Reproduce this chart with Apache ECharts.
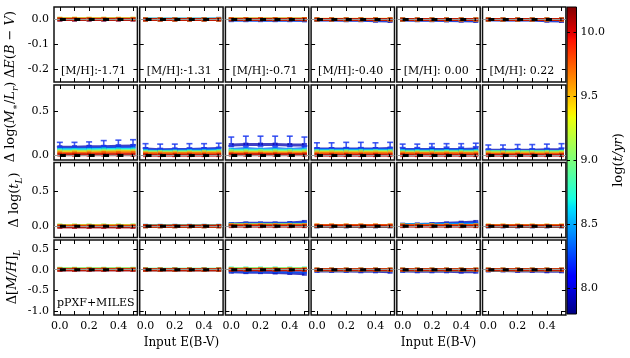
<!DOCTYPE html>
<html>
<head>
<meta charset="utf-8">
<script src="https://cdn.jsdelivr.net/npm/echarts@6/dist/echarts.min.js"></script>
<style>
  html, body { margin: 0; padding: 0; background: #fff; }
  #chart { width: 630px; height: 358px; }
</style>
</head>
<body>
<div id="chart"></div>
<script>
// input E(B-V) values and the stellar ages (log t/yr) of each curve
var xs = [0, 0.1, 0.2, 0.3, 0.4, 0.5];
var ages = [7.9, 8.3, 8.7, 9.1, 9.5, 9.8, 10.1];
var metallicity = ['-1.71', '-1.31', '-0.71', '-0.40', ' 0.00', ' 0.22'];
var zeroLine = [0, 0, 0, 0, 0, 0];

// tick labels
var xTicks = [0, 0.1, 0.2, 0.3, 0.4, 0.5];
var xLabels = [0, 0.2, 0.4];
var ebvTicks = [-0.2, -0.1, 0];
var mlTicks = [0, 0.5];
var tTicks = [0, 0.5];
var mhTicks = [-1, -0.5, 0, 0.5];
var cbarTicks = [8, 8.5, 9, 9.5, 10];

// row 1: delta E(B-V)   [column][age][point]
var dEBV = [
  [[0,0,0,0,0,0],[0.001,0.001,0.001,0.001,0.002,0.002],[0.002,0.002,0.002,0.002,0.002,0.002],[0.003,0.003,0.003,0.003,0.003,0.003],[0.003,0.003,0.003,0.003,0.003,0.003],[0.001,0.001,0.001,0.001,0.001,0.001],[0,0,0,0,0,0]],
  [[0,0,0,0,0,0],[0.002,0.002,0.002,0.002,0.002,0.003],[0.001,0.001,0.001,0.001,0.001,0.001],[0.001,0.001,0.001,0.001,0.001,0.001],[0,0,0,0,0,0],[0,0,0,0,0,0],[0,0,0,0,0,0]],
  [[-0.001,-0.001,-0.002,-0.002,-0.002,-0.003],[-0.003,-0.003,-0.003,-0.003,-0.003,-0.003],[0.001,0.001,0.001,0.001,0.001,0.001],[0.002,0.002,0.002,0.002,0.002,0.002],[0.002,0.002,0.002,0.002,0.002,0.002],[0.001,0.001,0.001,0.001,0.001,0.001],[0,0,0,0,0,0]],
  [[-0.002,-0.002,-0.003,-0.003,-0.005,-0.006],[-0.001,-0.001,-0.001,-0.002,-0.002,-0.002],[0,0,0,0,0,0],[0,0,0,0,0,0],[0.001,0.001,0.001,0.001,0.001,0.001],[0,0,0,0,0,0],[0,0,0,0,0,0]],
  [[-0.002,-0.003,-0.003,-0.004,-0.005,-0.006],[-0.001,-0.001,-0.002,-0.002,-0.002,-0.003],[0,0,0,0,0,0],[0,0,0,0,0,0],[0,0,0,0,0,0],[0,0,0,0,0,0],[0,0,0,0,0,0]],
  [[-0.001,-0.002,-0.002,-0.002,-0.005,-0.006],[-0.001,-0.001,-0.001,-0.001,-0.002,-0.002],[0,0,0,0,0,0],[0,0,0,0,0,0],[0,0,0,0,0,0],[0,0,0,0,0,0],[0,0,0,0,0,0]]
];

// row 2: delta log(M*/L_r)
var dML = [
  [[0.095,0.095,0.1,0.1,0.105,0.11],[0.08,0.075,0.08,0.085,0.085,0.09],[0.065,0.065,0.065,0.07,0.07,0.07],[0.05,0.05,0.05,0.055,0.055,0.055],[0.04,0.04,0.04,0.04,0.045,0.045],[0.025,0.025,0.025,0.03,0.03,0.03],[0.01,0.01,0.01,0.01,0.01,0.01]],
  [[0.075,0.065,0.07,0.07,0.075,0.08],[0.06,0.055,0.06,0.06,0.065,0.065],[0.05,0.045,0.05,0.05,0.05,0.055],[0.04,0.04,0.04,0.04,0.04,0.045],[0.03,0.03,0.03,0.03,0.035,0.035],[0.02,0.02,0.02,0.02,0.02,0.02],[0.005,0.005,0.005,0.005,0.005,0.005]],
  [[0.12,0.125,0.125,0.125,0.12,0.12],[0.07,0.08,0.07,0.08,0.07,0.08],[0.06,0.06,0.06,0.06,0.06,0.06],[0.05,0.05,0.05,0.05,0.05,0.05],[0.035,0.035,0.035,0.035,0.035,0.035],[0.02,0.02,0.02,0.02,0.02,0.02],[0.01,0.01,0.01,0.01,0.01,0.01]],
  [[0.075,0.075,0.075,0.075,0.075,0.08],[0.065,0.065,0.065,0.065,0.065,0.065],[0.055,0.055,0.055,0.055,0.055,0.055],[0.045,0.045,0.045,0.045,0.045,0.045],[0.035,0.035,0.035,0.035,0.035,0.035],[0.02,0.02,0.02,0.02,0.02,0.02],[0.005,0.005,0.005,0.005,0.005,0.005]],
  [[0.07,0.07,0.07,0.07,0.07,0.075],[0.06,0.06,0.06,0.06,0.06,0.06],[0.05,0.05,0.05,0.05,0.05,0.05],[0.04,0.04,0.04,0.04,0.04,0.04],[0.03,0.03,0.03,0.03,0.03,0.03],[0.02,0.02,0.02,0.02,0.02,0.02],[0.005,0.005,0.005,0.005,0.005,0.005]],
  [[0.06,0.06,0.06,0.06,0.065,0.065],[0.05,0.05,0.05,0.05,0.05,0.05],[0.045,0.045,0.045,0.045,0.045,0.045],[0.04,0.04,0.04,0.04,0.04,0.04],[0.03,0.03,0.03,0.03,0.03,0.03],[0.015,0.015,0.015,0.015,0.015,0.015],[0.005,0.005,0.005,0.005,0.005,0.005]]
];
// error bars of the youngest population (centre, half length)
var mlErrMid = [
  [0.125,0.125,0.13,0.14,0.145,0.15],
  [0.11,0.105,0.105,0.11,0.11,0.115],
  [0.16,0.165,0.165,0.165,0.165,0.16],
  [0.115,0.115,0.12,0.12,0.115,0.12],
  [0.11,0.11,0.115,0.115,0.115,0.12],
  [0.095,0.095,0.1,0.1,0.105,0.11]
];
var mlErrHalf = [
  [0.025,0.025,0.025,0.03,0.03,0.03],
  [0.025,0.025,0.025,0.025,0.025,0.025],
  [0.05,0.055,0.055,0.055,0.055,0.05],
  [0.03,0.03,0.03,0.03,0.03,0.03],
  [0.02,0.02,0.02,0.02,0.02,0.02],
  [0.025,0.025,0.025,0.025,0.025,0.025]
];

// row 3: delta log(t_L)
var dLogT = [
  [[0,0,0,0,0,0],[0,0,0,0,0,0],[0.005,0.005,0.005,0.005,0.005,0.005],[0.01,0.01,0.01,0.01,0.01,0.01],[0.005,0.005,0.005,0.005,0.005,0.005],[0,0,0,0,0,0],[-0.01,-0.01,-0.01,-0.01,-0.01,-0.01]],
  [[0,0,0,0,0,0],[0.005,0.005,0.005,0.005,0.005,0.005],[0.005,0.005,0.005,0.005,0.005,0.005],[0,0,0,0,0,0],[0,0,0,0,0,0],[0,0,0,0,0,0],[0,0,0,0,0,0]],
  [[0.03,0.04,0.04,0.04,0.045,0.06],[0.025,0.03,0.03,0.03,0.035,0.04],[0.02,0.02,0.02,0.02,0.02,0.02],[0.015,0.015,0.015,0.015,0.015,0.015],[0.015,0.015,0.015,0.015,0.015,0.015],[0.01,0.01,0.01,0.01,0.01,0.01],[0,0,0,0,0,0]],
  [[0,0,0,0,0,0],[0,0,0,0,0,0],[0,0,0,0,0,0],[0.005,0.005,0.005,0.005,0.005,0.005],[0.01,0.01,0.01,0.01,0.01,0.01],[0.01,0.01,0.01,0.01,0.01,0.01],[0,0,0,0,0,0]],
  [[0.02,0.025,0.03,0.04,0.05,0.06],[0.02,0.02,0.025,0.03,0.035,0.04],[0.015,0.015,0.015,0.015,0.015,0.015],[0.01,0.01,0.01,0.01,0.01,0.01],[0.01,0.01,0.01,0.01,0.01,0.01],[0.01,0.01,0.01,0.01,0.01,0.01],[0,0,0,0,0,0]],
  [[0,0,0,0,0,0],[0,0,0,0,0,0],[0,0,0,0,0,0],[0.005,0.005,0.005,0.005,0.005,0.005],[0.01,0.01,0.01,0.01,0.01,0.01],[0.005,0.005,0.005,0.005,0.005,0.005],[0,0,0,0,0,0]]
];

// row 4: delta [M/H]_L
var dMH = [
  [[0,0,0,0,0,0],[0.01,0.01,0.01,0.01,0.01,0.01],[0.02,0.02,0.02,0.02,0.02,0.02],[0.02,0.02,0.02,0.02,0.02,0.02],[0.01,0.01,0.01,0.01,0.01,0.01],[0,0,0,0,0,0],[0,0,0,0,0,0]],
  [[0,0,0,0,0,0],[0,0,0,0,0,0],[0.01,0.01,0.01,0.01,0.01,0.01],[0.01,0.01,0.01,0.01,0.01,0.01],[0,0,0,0,0,0],[0,0,0,0,0,0],[0,0,0,0,0,0]],
  [[-0.05,-0.06,-0.06,-0.07,-0.08,-0.1],[-0.03,-0.04,-0.04,-0.04,-0.05,-0.05],[0.03,0.03,0.03,0.03,0.03,0.03],[0.02,0.02,0.02,0.02,0.02,0.02],[0.01,0.01,0.01,0.01,0.01,0.01],[0,0,0,0,0,0],[0,0,0,0,0,0]],
  [[-0.03,-0.03,-0.03,-0.04,-0.04,-0.05],[-0.02,-0.02,-0.02,-0.02,-0.02,-0.02],[0,0,0,0,0,0],[0,0,0,0,0,0],[0,0,0,0,0,0],[0,0,0,0,0,0],[0,0,0,0,0,0]],
  [[-0.03,-0.04,-0.04,-0.04,-0.05,-0.05],[-0.02,-0.02,-0.02,-0.02,-0.02,-0.02],[0,0,0,0,0,0],[0,0,0,0,0,0],[0,0,0,0,0,0],[0,0,0,0,0,0],[0,0,0,0,0,0]],
  [[-0.02,-0.02,-0.03,-0.03,-0.04,-0.04],[-0.01,-0.01,-0.01,-0.01,-0.01,-0.01],[0,0,0,0,0,0],[0,0,0,0,0,0],[0,0,0,0,0,0],[0,0,0,0,0,0],[0,0,0,0,0,0]]
];

var rowData = [dEBV, dML, dLogT, dMH];
var rowAxes = [
  {min: -0.25, max: 0.05, ticks: ebvTicks},
  {min: -0.05, max: 0.8, ticks: mlTicks},
  {min: -0.16, max: 0.9, ticks: tTicks},
  {min: -1.1, max: 0.72, ticks: mhTicks}
];
var AGE_MIN = 7.8, AGE_MAX = 10.2;
var FONT = 'DejaVu Serif';

// matplotlib "jet"
function jet(t) {
  t = Math.max(0, Math.min(1, t));
  var r = t < 0.35 ? 0 : t < 0.66 ? (t - 0.35) / 0.31 : t < 0.89 ? 1 : 1 - 0.5 * (t - 0.89) / 0.11;
  var g = t < 0.125 ? 0 : t < 0.375 ? (t - 0.125) / 0.25 : t < 0.64 ? 1 : t < 0.91 ? 1 - (t - 0.64) / 0.27 : 0;
  var b = t < 0.11 ? 0.5 + 0.5 * t / 0.11 : t < 0.34 ? 1 : t < 0.65 ? 1 - (t - 0.34) / 0.31 : 0;
  return 'rgb(' + Math.round(r * 255) + ',' + Math.round(g * 255) + ',' + Math.round(b * 255) + ')';
}
function ageColor(a) { return jet((a - AGE_MIN) / (AGE_MAX - AGE_MIN)); }

var colLeft = function (c) { return 54 + c * 85.7; };
var rowTop = [7, 85, 162.5, 240];
var PW = 83.4, PH = 75;

var grids = [], xAxes = [], yAxes = [], series = [];

for (var r = 0; r < 4; r++) {
  for (var c = 0; c < 6; c++) {
    var g = r * 6 + c;
    grids.push({left: colLeft(c), top: rowTop[r], width: PW, height: PH,
      show: true, borderColor: '#111', borderWidth: 1.5, backgroundColor: '#fff'});
    [ 'bottom', 'top' ].forEach(function (pos) {
      xAxes.push({
        gridIndex: g, type: 'value', min: -0.04, max: 0.53, position: pos,
        axisLine: {show: false, onZero: false}, splitLine: {show: false},
        axisTick: {inside: true, length: 4, customValues: xTicks, lineStyle: {color: '#000'}},
        axisLabel: {show: pos === 'bottom' && r === 3, customValues: xLabels, margin: 6,
          formatter: function (v) { return v.toFixed(1); },
          fontFamily: FONT, fontSize: 11, color: '#000'}
      });
    });
    [ 'left', 'right' ].forEach(function (pos) {
      yAxes.push({
        gridIndex: g, type: 'value', min: rowAxes[r].min, max: rowAxes[r].max, position: pos,
        axisLine: {show: false, onZero: false}, splitLine: {show: false},
        axisTick: {inside: true, length: 4, customValues: rowAxes[r].ticks, lineStyle: {color: '#000'}},
        axisLabel: {show: pos === 'left' && c === 0, customValues: rowAxes[r].ticks, margin: 5,
          formatter: function (v) { return v.toFixed(1); },
          fontFamily: FONT, fontSize: 11, color: '#000'}
      });
    });

    // one curve per age
    ages.forEach(function (a, k) {
      var vals = rowData[r][c][k];
      var col = ageColor(a);
      series.push({
        type: 'line', xAxisIndex: 2 * g, yAxisIndex: 2 * g, silent: true, z: 2,
        data: xs.map(function (x, i) { return [x, vals[i]]; }),
        symbol: 'rect', symbolSize: [5, 4], showSymbol: true,
        itemStyle: {color: col, opacity: 0.7},
        lineStyle: {color: col, width: 3, opacity: 0.75}
      });
    });

    // error bars (mass-to-light row)
    if (r === 1) {
      var mids = mlErrMid[c], halfs = mlErrHalf[c];
      series.push({
        type: 'custom', xAxisIndex: 2 * g, yAxisIndex: 2 * g, silent: true, z: 3,
        data: xs.map(function (x, i) { return [x, mids[i] - halfs[i], mids[i] + halfs[i]]; }),
        renderItem: function (params, api) {
          var lo = api.coord([api.value(0), api.value(1)]);
          var hi = api.coord([api.value(0), api.value(2)]);
          var st = {stroke: '#1f3cf0', lineWidth: 1.6, opacity: 0.85};
          return {type: 'group', children: [
            {type: 'line', shape: {x1: lo[0], y1: lo[1], x2: hi[0], y2: hi[1]}, style: st},
            {type: 'line', shape: {x1: lo[0] - 3, y1: lo[1], x2: lo[0] + 3, y2: lo[1]}, style: st},
            {type: 'line', shape: {x1: hi[0] - 3, y1: hi[1], x2: hi[0] + 3, y2: hi[1]}, style: st}
          ]};
        }
      });
    }

    // zero reference
    series.push({
      type: 'line', xAxisIndex: 2 * g, yAxisIndex: 2 * g, silent: true, showSymbol: false, z: 6,
      data: xs.map(function (x, i) { return [x, zeroLine[i]]; }),
      lineStyle: {color: '#000', width: 3, type: [6, 8.4]},
      markLine: {silent: true, symbol: 'none', label: {show: false},
        lineStyle: {color: '#999', width: 1, type: 'solid'}, data: [{yAxis: 0}]}
    });
  }
}

// colour bar
var stops = [];
[0, 0.11, 0.125, 0.34, 0.35, 0.375, 0.5, 0.64, 0.65, 0.66, 0.89, 0.91, 1].forEach(function (t) {
  stops.push({offset: 1 - t, color: jet(t)});
});
stops.sort(function (a, b) { return a.offset - b.offset; });
grids.push({left: 567, top: 7, width: 9.5, height: 307, show: true, borderColor: '#000', borderWidth: 1,
  backgroundColor: {type: 'linear', x: 0, y: 0, x2: 0, y2: 1, colorStops: stops}});
xAxes.push({gridIndex: 24, type: 'value', min: 0, max: 1, show: false});
[ 'right', 'left' ].forEach(function (pos) {
  yAxes.push({
    gridIndex: 24, type: 'value', min: AGE_MIN, max: AGE_MAX, position: pos,
    axisLine: {show: false, onZero: false}, splitLine: {show: false},
    axisTick: {inside: true, length: 3, customValues: cbarTicks, lineStyle: {color: '#000'}},
    axisLabel: {show: pos === 'right', customValues: cbarTicks, margin: 4,
      formatter: function (v) { return v.toFixed(1); },
      fontFamily: FONT, fontSize: 11, color: '#000'}
  });
});

// texts
var rich = {
  n: {fontFamily: FONT, fontSize: 13, color: '#000', lineHeight: 18},
  i: {fontFamily: FONT, fontSize: 13, fontStyle: 'italic', color: '#000', lineHeight: 18},
  s: {fontFamily: FONT, fontSize: 9, fontStyle: 'italic', color: '#000', lineHeight: 18, verticalAlign: 'bottom'}
};
function vText(x, y, txt) {
  return {type: 'text', x: x, y: y, rotation: Math.PI / 2, silent: true,
    style: {text: txt, rich: rich, align: 'center', verticalAlign: 'middle'}};
}
var graphics = [
  vText(11, 44.5, '{n|Δ}{i|E}{n|(}{i|B − V}{n|)}'),
  vText(11, 122, '{n|Δ log(}{i|M}{s|∗}{n|/}{i|L}{s|r}{n|)}'),
  vText(15, 200, '{n|Δ log(}{i|t}{s|L}{n|)}'),
  vText(13, 277, '{n|Δ[}{i|M/H}{n|]}{s|L}'),
  vText(619, 160, '{n|log(}{i|t/yr}{n|)}')
];
metallicity.forEach(function (m, c) {
  graphics.push({type: 'text', x: colLeft(c) + 7, y: 71, silent: true,
    style: {text: '[M/H]:' + m, fontFamily: FONT, fontSize: 11, fill: '#000', verticalAlign: 'middle'}});
});
graphics.push({type: 'text', x: 57, y: 303, silent: true,
  style: {text: 'pPXF+MILES', fontFamily: FONT, fontSize: 11, fill: '#000', verticalAlign: 'middle'}});
[1, 4].forEach(function (c) {
  graphics.push({type: 'text', x: colLeft(c) + PW / 2, y: 343, silent: true,
    style: {text: 'Input E(B-V)', fontFamily: FONT, fontSize: 12, fill: '#000', align: 'center', verticalAlign: 'middle'}});
});

var chart = echarts.init(document.getElementById('chart'), null, {renderer: 'canvas'});
chart.setOption({
  animation: false,
  backgroundColor: '#fff',
  grid: grids,
  xAxis: xAxes,
  yAxis: yAxes,
  series: series,
  graphic: graphics
});
</script>
</body>
</html>
